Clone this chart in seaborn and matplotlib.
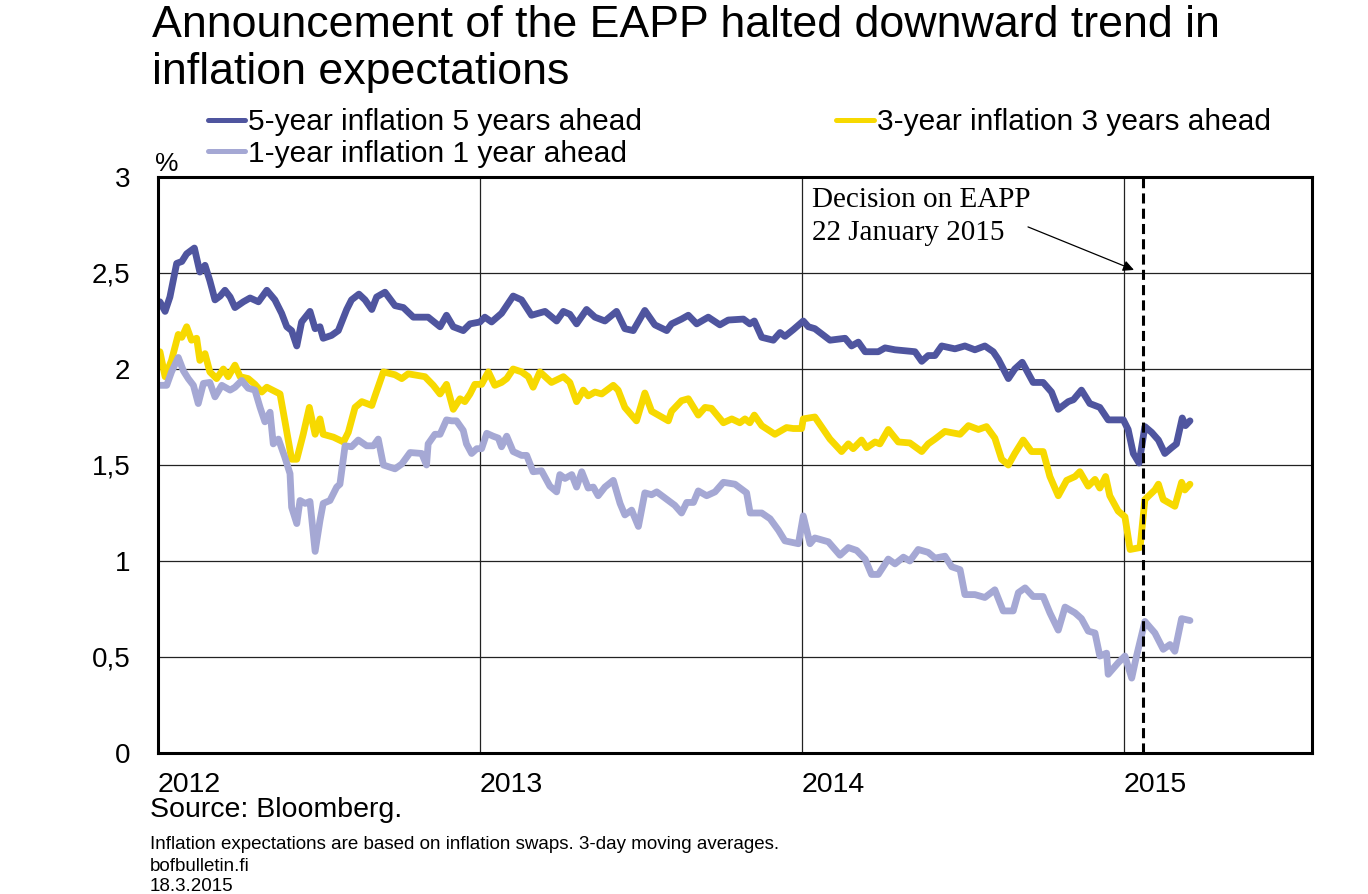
import numpy as np
import pandas as pd
import matplotlib
matplotlib.use("Agg")
import matplotlib.pyplot as plt
import seaborn as sns
from matplotlib.ticker import FuncFormatter, FixedLocator

# ---------------- data (decimal years, %) ----------------
years_5y = [2012.006, 2012.022, 2012.037, 2012.058, 2012.074, 2012.089, 2012.113, 2012.130, 2012.146, 2012.161,
            2012.177, 2012.193, 2012.208, 2012.224, 2012.239, 2012.265, 2012.286, 2012.312, 2012.338, 2012.363,
            2012.384, 2012.400, 2012.415, 2012.431, 2012.446, 2012.472, 2012.488, 2012.503, 2012.513, 2012.539,
            2012.560, 2012.586, 2012.601, 2012.624, 2012.643, 2012.664, 2012.679, 2012.705, 2012.736, 2012.762,
            2012.793,
            2012.839, 2012.876, 2012.896, 2012.917, 2012.948, 2012.969, 2013.000, 2013.015, 2013.036, 2013.067,
            2013.103, 2013.129, 2013.160, 2013.202, 2013.238, 2013.259, 2013.279, 2013.300, 2013.331, 2013.357,
            2013.388, 2013.424, 2013.450, 2013.476, 2013.512, 2013.543, 2013.580, 2013.595,
            2013.626, 2013.647, 2013.673, 2013.709, 2013.745, 2013.771, 2013.818, 2013.838, 2013.852, 2013.875,
            2013.911, 2013.932, 2013.947, 2013.973, 2014.004, 2014.020, 2014.040, 2014.087, 2014.134, 2014.154,
            2014.175, 2014.196, 2014.237, 2014.258, 2014.289, 2014.320, 2014.351, 2014.372, 2014.392, 2014.413,
            2014.434, 2014.475, 2014.506, 2014.537, 2014.568, 2014.594, 2014.610, 2014.641, 2014.661, 2014.684,
            2014.718, 2014.749, 2014.775, 2014.796, 2014.827, 2014.843, 2014.868, 2014.894, 2014.925, 2014.951,
            2014.998, 2015.013, 2015.029, 2015.047, 2015.065, 2015.086, 2015.107, 2015.127, 2015.148, 2015.163,
            2015.181, 2015.191, 2015.205]
vals_5y = [2.35, 2.30, 2.375, 2.55, 2.56, 2.60, 2.63, 2.505, 2.54, 2.46,
           2.36, 2.38, 2.41, 2.375, 2.32, 2.35, 2.37, 2.35, 2.41, 2.36,
           2.29, 2.22, 2.20, 2.12, 2.245, 2.30, 2.21, 2.22, 2.16, 2.175,
           2.20, 2.31, 2.36, 2.39, 2.36, 2.31, 2.375, 2.40, 2.33, 2.32,
           2.27,
           2.27, 2.22, 2.28, 2.22, 2.20, 2.235, 2.245, 2.27, 2.245, 2.29,
           2.38, 2.36, 2.28, 2.30, 2.25, 2.30, 2.285, 2.235, 2.31, 2.27,
           2.25, 2.30, 2.21, 2.20, 2.305, 2.23, 2.20, 2.235,
           2.26, 2.28, 2.235, 2.27, 2.23, 2.255, 2.26, 2.235, 2.25, 2.165,
           2.15, 2.19, 2.17, 2.205, 2.25, 2.22, 2.21, 2.15, 2.16, 2.12,
           2.14, 2.09, 2.09, 2.11, 2.10, 2.095, 2.09, 2.04, 2.07, 2.07,
           2.12, 2.105, 2.12, 2.10, 2.12, 2.09, 2.05, 1.95, 2.00, 2.035,
           1.93, 1.93, 1.88, 1.79, 1.83, 1.84, 1.89, 1.82, 1.80, 1.735,
           1.735, 1.685, 1.56, 1.51, 1.70, 1.67, 1.63, 1.56, 1.59, 1.61,
           1.745, 1.705, 1.73]

years_3y = [2012.006, 2012.022, 2012.042, 2012.063, 2012.074, 2012.089, 2012.104, 2012.120, 2012.130, 2012.146,
            2012.161, 2012.182, 2012.203, 2012.218, 2012.239, 2012.255, 2012.280, 2012.301, 2012.322, 2012.338,
            2012.379, 2012.394, 2012.415, 2012.431, 2012.451, 2012.470, 2012.488, 2012.503, 2012.513, 2012.545,
            2012.576, 2012.591, 2012.612, 2012.633, 2012.664, 2012.674, 2012.700, 2012.736, 2012.757, 2012.777,
            2012.829, 2012.855, 2012.876, 2012.896, 2012.917, 2012.938, 2012.953, 2012.969, 2012.984, 2013.005,
            2013.026, 2013.046, 2013.067, 2013.083, 2013.103, 2013.129, 2013.150, 2013.165, 2013.186, 2013.222,
            2013.259, 2013.279, 2013.300, 2013.321, 2013.336, 2013.357, 2013.378, 2013.414, 2013.429, 2013.450,
            2013.486, 2013.512, 2013.533, 2013.559, 2013.585, 2013.595,
            2013.626, 2013.647, 2013.678, 2013.699, 2013.719, 2013.756, 2013.782, 2013.807, 2013.823, 2013.838,
            2013.852, 2013.875, 2013.916, 2013.952, 2013.973, 2013.999, 2014.004, 2014.040, 2014.087, 2014.123,
            2014.144, 2014.159, 2014.185, 2014.201, 2014.227, 2014.242, 2014.268, 2014.299, 2014.335, 2014.372,
            2014.392, 2014.413,
            2014.444, 2014.491, 2014.517, 2014.548, 2014.573, 2014.599, 2014.620, 2014.641, 2014.661, 2014.687,
            2014.713, 2014.749, 2014.770, 2014.796, 2014.822, 2014.848, 2014.863, 2014.889, 2014.910, 2014.925,
            2014.943, 2014.956, 2014.982, 2015.003, 2015.019, 2015.050, 2015.065, 2015.096, 2015.107, 2015.122,
            2015.158, 2015.179, 2015.189, 2015.205]
vals_3y = [2.09, 1.96, 2.045, 2.18, 2.165, 2.22, 2.15, 2.16, 2.045, 2.08,
           1.985, 1.95, 2.00, 1.96, 2.02, 1.96, 1.95, 1.92, 1.88, 1.905,
           1.87, 1.73, 1.53, 1.53, 1.66, 1.80, 1.66, 1.74, 1.66, 1.645,
           1.62, 1.67, 1.80, 1.83, 1.81, 1.86, 1.985, 1.97, 1.95, 1.975,
           1.96, 1.915, 1.87, 1.92, 1.79, 1.845, 1.83, 1.87, 1.92, 1.92,
           1.985, 1.915, 1.93, 1.95, 2.00, 1.985, 1.96, 1.905, 1.985, 1.93,
           1.96, 1.93, 1.83, 1.89, 1.86, 1.88, 1.87, 1.915, 1.89, 1.80,
           1.73, 1.875, 1.78, 1.755, 1.73, 1.78,
           1.835, 1.845, 1.76, 1.80, 1.795, 1.72, 1.74, 1.72, 1.74, 1.72,
           1.76, 1.705, 1.66, 1.695, 1.69, 1.69, 1.74, 1.75, 1.635, 1.57,
           1.61, 1.585, 1.63, 1.59, 1.62, 1.61, 1.685, 1.62, 1.615, 1.57,
           1.61, 1.635,
           1.675, 1.66, 1.705, 1.685, 1.70, 1.64, 1.53, 1.50, 1.56, 1.63,
           1.57, 1.57, 1.44, 1.34, 1.42, 1.44, 1.465, 1.39, 1.425, 1.38,
           1.44, 1.34, 1.26, 1.23, 1.06, 1.07, 1.32, 1.37, 1.40, 1.32,
           1.285, 1.41, 1.37, 1.40]

years_1y = [2012.006, 2012.027, 2012.042, 2012.063, 2012.079, 2012.094, 2012.110, 2012.125, 2012.141, 2012.161,
            2012.177, 2012.198, 2012.224, 2012.239, 2012.260, 2012.280, 2012.301, 2012.317, 2012.332, 2012.348,
            2012.358, 2012.374, 2012.394, 2012.410, 2012.415, 2012.431, 2012.441, 2012.457, 2012.472, 2012.488,
            2012.503, 2012.513, 2012.534, 2012.555, 2012.565, 2012.581, 2012.601, 2012.622, 2012.648, 2012.669,
            2012.684, 2012.700, 2012.736, 2012.757, 2012.783,
            2012.819, 2012.834, 2012.839, 2012.860, 2012.876, 2012.896, 2012.912, 2012.927, 2012.948, 2012.958,
            2012.974, 2012.990, 2013.005, 2013.021, 2013.041, 2013.057, 2013.067, 2013.083, 2013.103, 2013.129,
            2013.145, 2013.165, 2013.191, 2013.217, 2013.238, 2013.248, 2013.264, 2013.285, 2013.300, 2013.316,
            2013.336, 2013.352, 2013.367, 2013.388, 2013.414, 2013.435, 2013.450, 2013.471, 2013.492, 2013.512,
            2013.533, 2013.549, 2013.585, 2013.605,
            2013.626, 2013.642, 2013.663, 2013.678, 2013.704, 2013.730, 2013.756, 2013.792, 2013.828, 2013.839,
            2013.875, 2013.901, 2013.927, 2013.947, 2013.989, 2014.004, 2014.025, 2014.040, 2014.082, 2014.118,
            2014.144, 2014.170, 2014.196, 2014.216, 2014.237, 2014.268, 2014.289, 2014.315, 2014.335, 2014.361,
            2014.392,
            2014.413, 2014.444, 2014.465, 2014.491, 2014.506, 2014.537, 2014.568, 2014.599, 2014.625, 2014.656,
            2014.672, 2014.693, 2014.718, 2014.749, 2014.770, 2014.796, 2014.817, 2014.848, 2014.868, 2014.889,
            2014.910, 2014.925, 2014.946, 2014.951, 2014.982, 2015.003, 2015.024, 2015.039, 2015.065, 2015.096,
            2015.122, 2015.143, 2015.158, 2015.179, 2015.205]
vals_1y = [1.915, 1.915, 1.985, 2.06, 1.99, 1.95, 1.915, 1.82, 1.925, 1.93,
           1.855, 1.915, 1.89, 1.905, 1.94, 1.90, 1.89, 1.80, 1.725, 1.775,
           1.61, 1.635, 1.54, 1.455, 1.28, 1.195, 1.315, 1.30, 1.31, 1.05,
           1.21, 1.30, 1.315, 1.385, 1.40, 1.60, 1.595, 1.63, 1.60, 1.60,
           1.635, 1.50, 1.48, 1.505, 1.565,
           1.56, 1.50, 1.61, 1.66, 1.66, 1.735, 1.73, 1.73, 1.68, 1.61,
           1.56, 1.585, 1.585, 1.665, 1.65, 1.64, 1.595, 1.65, 1.57, 1.55,
           1.55, 1.465, 1.47, 1.39, 1.36, 1.45, 1.43, 1.45, 1.385, 1.465,
           1.38, 1.385, 1.34, 1.385, 1.42, 1.30, 1.24, 1.265, 1.18, 1.355,
           1.345, 1.36, 1.315, 1.29,
           1.25, 1.305, 1.305, 1.365, 1.34, 1.36, 1.41, 1.40, 1.355, 1.25,
           1.25, 1.22, 1.16, 1.105, 1.09, 1.235, 1.09, 1.12, 1.10, 1.03,
           1.07, 1.055, 1.01, 0.93, 0.93, 1.01, 0.985, 1.02, 1.00, 1.06,
           1.045,
           1.015, 1.025, 0.97, 0.955, 0.825, 0.825, 0.81, 0.85, 0.74, 0.74,
           0.835, 0.86, 0.815, 0.815, 0.73, 0.64, 0.76, 0.73, 0.70, 0.635,
           0.625, 0.505, 0.52, 0.41, 0.47, 0.505, 0.39, 0.505, 0.685, 0.625,
           0.54, 0.565, 0.53, 0.70, 0.69]

series_labels = ["5-year inflation 5 years ahead",
                 "3-year inflation 3 years ahead",
                 "1-year inflation 1 year ahead"]
year_ticks = [2012, 2013, 2014, 2015]
y_ticks = [0, 0.5, 1, 1.5, 2, 2.5, 3]
decision_date = 2015.058  # 22 January 2015

colors = {series_labels[0]: "#4f559f",
          series_labels[1]: "#f7d900",
          series_labels[2]: "#a5a8d4"}

# ---------------- figure ----------------
sns.set_theme(style="white")
plt.rcParams['font.family'] = ['Liberation Sans', 'DejaVu Sans']
plt.rcParams['text.color'] = 'black'
plt.rcParams['axes.labelcolor'] = 'black'
plt.rcParams['xtick.color'] = 'black'
plt.rcParams['ytick.color'] = 'black'

fig = plt.figure(figsize=(13.68, 8.94), dpi=100)
W, H = 1368, 894
ax = fig.add_axes([158 / W, 1 - 753 / H, (1312 - 158) / W, (753 - 177) / H])

frames = []
for lab, xs, ys in [(series_labels[0], years_5y, vals_5y),
                    (series_labels[1], years_3y, vals_3y),
                    (series_labels[2], years_1y, vals_1y)]:
    frames.append(pd.DataFrame({"year": xs, "value": ys, "series": lab}))
df = pd.concat(frames, ignore_index=True)

sns.lineplot(data=df, x="year", y="value", hue="series", hue_order=series_labels,
             palette=colors, estimator=None, sort=False, linewidth=4.9,
             ax=ax, legend=True)
handles, labels = ax.get_legend_handles_labels()
ax.get_legend().remove()

ax.set_xlim(2012, 2015.584)
ax.set_ylim(0, 3)
ax.xaxis.set_major_locator(FixedLocator(year_ticks))
ax.yaxis.set_major_locator(FixedLocator(y_ticks))
ax.yaxis.set_major_formatter(FuncFormatter(lambda v, p: f"{v:g}".replace(".", ",")))
ax.xaxis.set_major_formatter(FuncFormatter(lambda v, p: f"{int(round(v))}"))
ax.set_xlabel("")
ax.set_ylabel("")
ax.grid(True, color="#222222", linewidth=0.9)
ax.set_axisbelow(True)
for s in ax.spines.values():
    s.set_visible(True)
    s.set_color("black")
    s.set_linewidth(2.2)
ax.tick_params(axis="both", length=0, colors="black", labelcolor="black")
ax.tick_params(axis="y", labelsize=20, pad=20)
ax.tick_params(axis="x", labelsize=20.5, pad=14)
for t in ax.get_xticklabels():
    t.set_horizontalalignment("left")

ax.axvline(decision_date, color="black", linewidth=2.2, linestyle=(0, (3.3, 1.7)), zorder=5)

ax.text(2014.031, 2.672, "Decision on EAPP\n22 January 2015", ha="left", va="baseline",
        fontsize=21, family=["Liberation Serif", "DejaVu Serif"], linespacing=1.35, color="black")
ax.annotate("", xy=(2015.031, 2.516), xytext=(2014.702, 2.74),
            arrowprops=dict(arrowstyle="-|>", color="black", lw=0.9, mutation_scale=16,
                            shrinkA=0, shrinkB=0))

# legend
order = [0, 2, 1]
leg = fig.legend([handles[i] for i in order], [labels[i] for i in order],
                 loc="upper left", bbox_to_anchor=(208 / W, 1 - 108 / H), ncol=2,
                 frameon=False, fontsize=21.5, handlelength=1.25, handletextpad=0.1,
                 columnspacing=6.5, borderpad=0, borderaxespad=0, labelspacing=0.12)
for h in leg.get_lines():
    h.set_linewidth(3.6)
for t in leg.get_texts():
    t.set_color("black")

# title, unit, footnotes
fig.text(152 / W, 1 - 5 / H, "Announcement of the EAPP halted downward trend in\ninflation expectations",
         ha="left", va="top", fontsize=32.2, linespacing=1.2, color="black")
fig.text(155 / W, 1 - 176 / H, "%", ha="left", va="bottom", fontsize=19, color="black")
fig.text(150 / W, 1 - 817 / H, "Source: Bloomberg.", ha="left", va="baseline", fontsize=20.5, color="black")
fig.text(150 / W, 1 - 849 / H, "Inflation expectations are based on inflation swaps. 3-day moving averages.",
         ha="left", va="baseline", fontsize=13.5, color="black")
fig.text(150 / W, 1 - 871 / H, "bofbulletin.fi", ha="left", va="baseline", fontsize=13.5, color="black")
fig.text(150 / W, 1 - 891 / H, "18.3.2015", ha="left", va="baseline", fontsize=13.5, color="black")

fig.savefig("out.png", dpi=100)
